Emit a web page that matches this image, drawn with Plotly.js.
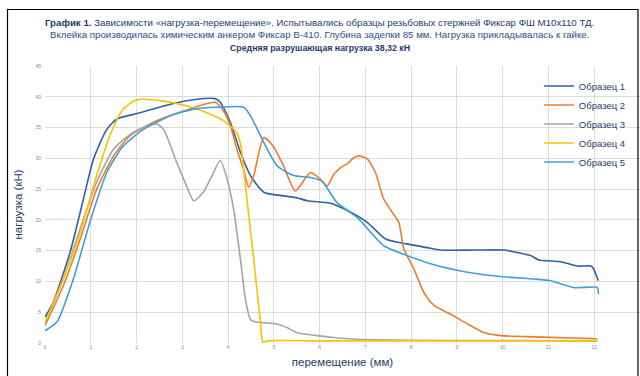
<!DOCTYPE html>
<html>
<head>
<meta charset="utf-8">
<script src="https://cdn.plot.ly/plotly-3.0.1.min.js"></script>
<style>html,body{margin:0;padding:0;background:#fff;}#chart{width:640px;height:376px;}</style>
</head>
<body>
<div id="chart"></div>
<script>
// Series names
const seriesNames = ["Образец 1", "Образец 2", "Образец 3", "Образец 4", "Образец 5"];
const seriesColors = ["#2f62a3", "#ed7d31", "#a5a5a5", "#ffc000", "#3ea0d9"];

// Образец 1
const x1 = [0, 0.18, 0.55, 0.84, 1.06, 1.35, 1.57, 2.08, 2.74, 3.32, 3.72, 3.83, 4.05, 4.27, 4.49, 4.78, 5.21, 5.5, 5.73, 6.24, 6.53, 7.04, 7.44, 7.91, 8.35, 8.64, 9.37, 10.03, 10.32, 10.61, 10.79, 11.27, 11.63, 11.93, 11.98, 12.09];
const y1 = [4.2, 6.6, 14.8, 23.4, 29.9, 34.7, 36.4, 37.4, 38.8, 39.6, 39.7, 39.1, 35.8, 31.0, 27.2, 24.5, 23.9, 23.6, 23.1, 22.7, 21.8, 19.6, 16.9, 16.1, 15.5, 15.1, 15.1, 15.1, 14.7, 14.2, 13.5, 13.2, 12.5, 12.5, 12.1, 10.1];

// Образец 2
const x2 = [0, 0.4, 0.77, 1.13, 1.5, 1.86, 2.44, 3.03, 3.72, 3.9, 4.05, 4.19, 4.34, 4.45, 4.56, 4.78, 5.0, 5.21, 5.47, 5.8, 6.02, 6.16, 6.31, 6.46, 6.6, 6.75, 6.86, 7.04, 7.22, 7.4, 7.59, 7.73, 7.84, 8.06, 8.28, 8.5, 8.93, 9.23, 9.59, 9.96, 10.68, 12.07];
const y2 = [2.8, 9.3, 16.9, 25.0, 30.4, 33.7, 36.1, 37.7, 39.1, 37.7, 35.3, 31.5, 28.2, 25.3, 27.2, 33.4, 31.8, 28.8, 24.7, 27.7, 26.6, 25.5, 27.4, 28.5, 29.1, 30.1, 30.4, 29.9, 27.7, 23.4, 21.2, 19.6, 15.3, 12.0, 8.2, 6.1, 4.4, 3.1, 1.7, 1.2, 1.0, 0.7];

// Образец 3
const x3 = [0, 0.4, 0.77, 1.13, 1.5, 1.86, 2.15, 2.44, 2.59, 2.88, 3.06, 3.25, 3.46, 3.65, 3.83, 3.98, 4.12, 4.27, 4.38, 4.49, 4.63, 5.07, 5.29, 5.5, 6.3, 6.82, 8.0, 10.0, 12.07];
const y3 = [3.3, 10.4, 18.6, 26.2, 31.5, 33.9, 35.0, 35.6, 34.7, 29.3, 26.1, 23.1, 24.5, 27.2, 29.7, 26.6, 21.8, 13.6, 7.1, 3.8, 3.4, 3.1, 2.5, 1.7, 0.9, 0.6, 0.45, 0.4, 0.35];

// Образец 4
const x4 = [0, 0.4, 0.77, 1.13, 1.42, 1.71, 2.0, 2.59, 3.1, 3.54, 3.9, 4.19, 4.28, 4.38, 4.56, 4.7, 4.76, 4.85, 6.0, 8.0, 10.0, 12.07];
const y4 = [3.3, 10.4, 18.0, 27.2, 33.7, 38.0, 39.5, 39.3, 38.5, 37.4, 36.1, 34.2, 32.0, 25.5, 13.6, 3.9, 0.1, 0.35, 0.35, 0.35, 0.35, 0.35];

// Образец 5
const x5 = [0, 0.26, 0.62, 0.98, 1.35, 1.71, 2.15, 2.74, 3.25, 3.76, 4.34, 4.49, 4.78, 5.07, 5.43, 5.8, 6.05, 6.38, 6.82, 7.4, 7.84, 8.5, 9.23, 9.96, 10.68, 11.05, 11.56, 12.07, 12.09];
const y5 = [2.0, 3.4, 10.4, 19.6, 27.7, 32.0, 34.7, 36.9, 38.0, 38.3, 38.3, 36.9, 32.6, 28.8, 27.2, 26.9, 26.3, 22.8, 20.4, 15.8, 14.4, 12.7, 11.5, 10.8, 10.4, 10.1, 9.0, 9.0, 8.0];

// Texts
const titleLine1 = "<b>График 1.</b> Зависимости «нагрузка-перемещение». Испытывались образцы резьбовых стержней Фиксар ФШ М10х110 ТД.";
const titleLine2 = "Вклейка производилась химическим анкером Фиксар В-410. Глубина заделки 85 мм. Нагрузка прикладывалась к гайке.";
const titleLine3 = "<b>Средняя разрушающая нагрузка 38,32 кН</b>";
const xTitle = "перемещение (мм)";
const yTitle = "нагрузка (кН)";
const xTicks = [0,1,2,3,4,5,6,7,8,9,10,11,12,13];
const yTicks = [0,5,10,15,20,25,30,35,40,45];

const xs = [x1, x2, x3, x4, x5];
const ys = [y1, y2, y3, y4, y5];
const traces = seriesNames.map((n, i) => ({
  type: 'scatter', mode: 'lines', name: n,
  x: xs[i], y: ys[i],
  line: {color: seriesColors[i], width: 1.6, shape: 'spline', smoothing: 0.6}
}));

const fontFam = '"Liberation Sans", Arial, sans-serif';
const navy = '#1f3a70';

const layout = {
  width: 640, height: 376,
  margin: {l: 45, r: 0, t: 66, b: 33},
  paper_bgcolor: '#ffffff', plot_bgcolor: '#ffffff',
  font: {family: fontFam},
  showlegend: true,
  legend: {
    x: 0.83, y: 0.98, xanchor: 'left', yanchor: 'top',
    bgcolor: 'rgba(0,0,0,0)',
    font: {size: 9.5, color: navy, family: fontFam},
    itemwidth: 30
  },
  xaxis: {
    range: [0, 13], tickvals: xTicks, ticktext: xTicks.map(String),
    showgrid: true, gridcolor: '#dcdcdc', gridwidth: 1,
    zeroline: false, showline: false,
    tickfont: {size: 5, color: '#8a8a8a'},
    title: {text: xTitle, font: {size: 11.5, color: navy}, standoff: 8},
    fixedrange: true
  },
  yaxis: {
    range: [0, 45], tickvals: yTicks, ticktext: yTicks.map(String),
    showgrid: true, gridcolor: '#dcdcdc', gridwidth: 1,
    zeroline: false, showline: false,
    tickfont: {size: 5, color: '#8a8a8a'},
    ticklabelstandoff: 3,
    title: {text: yTitle, font: {size: 11.5, color: navy}, standoff: 10},
    fixedrange: true
  },
  annotations: [
    {xref: 'paper', yref: 'paper', x: 0.462, y: (343-22.5)/277, xanchor: 'center', yanchor: 'middle', showarrow: false,
     text: titleLine1, font: {size: 9.7, color: navy, family: fontFam}},
    {xref: 'paper', yref: 'paper', x: 0.462, y: (343-35)/277, xanchor: 'center', yanchor: 'middle', showarrow: false,
     text: titleLine2, font: {size: 9.7, color: '#2a4f8f', family: fontFam}},
    {xref: 'paper', yref: 'paper', x: 0.462, y: (343-48)/277, xanchor: 'center', yanchor: 'middle', showarrow: false,
     text: titleLine3, font: {size: 8.8, color: navy, family: fontFam}}
  ],
  shapes: [
    {type: 'rect', xref: 'paper', yref: 'paper', x0: (7.5-45)/595, x1: (638-45)/595, y0: (343-385)/277, y1: (343-9.5)/277,
     line: {color: '#000000', width: 1.2}, fillcolor: 'rgba(0,0,0,0)', layer: 'above'}
  ]
};

Plotly.newPlot('chart', traces, layout, {displayModeBar: false, staticPlot: true});
</script>
</body>
</html>
